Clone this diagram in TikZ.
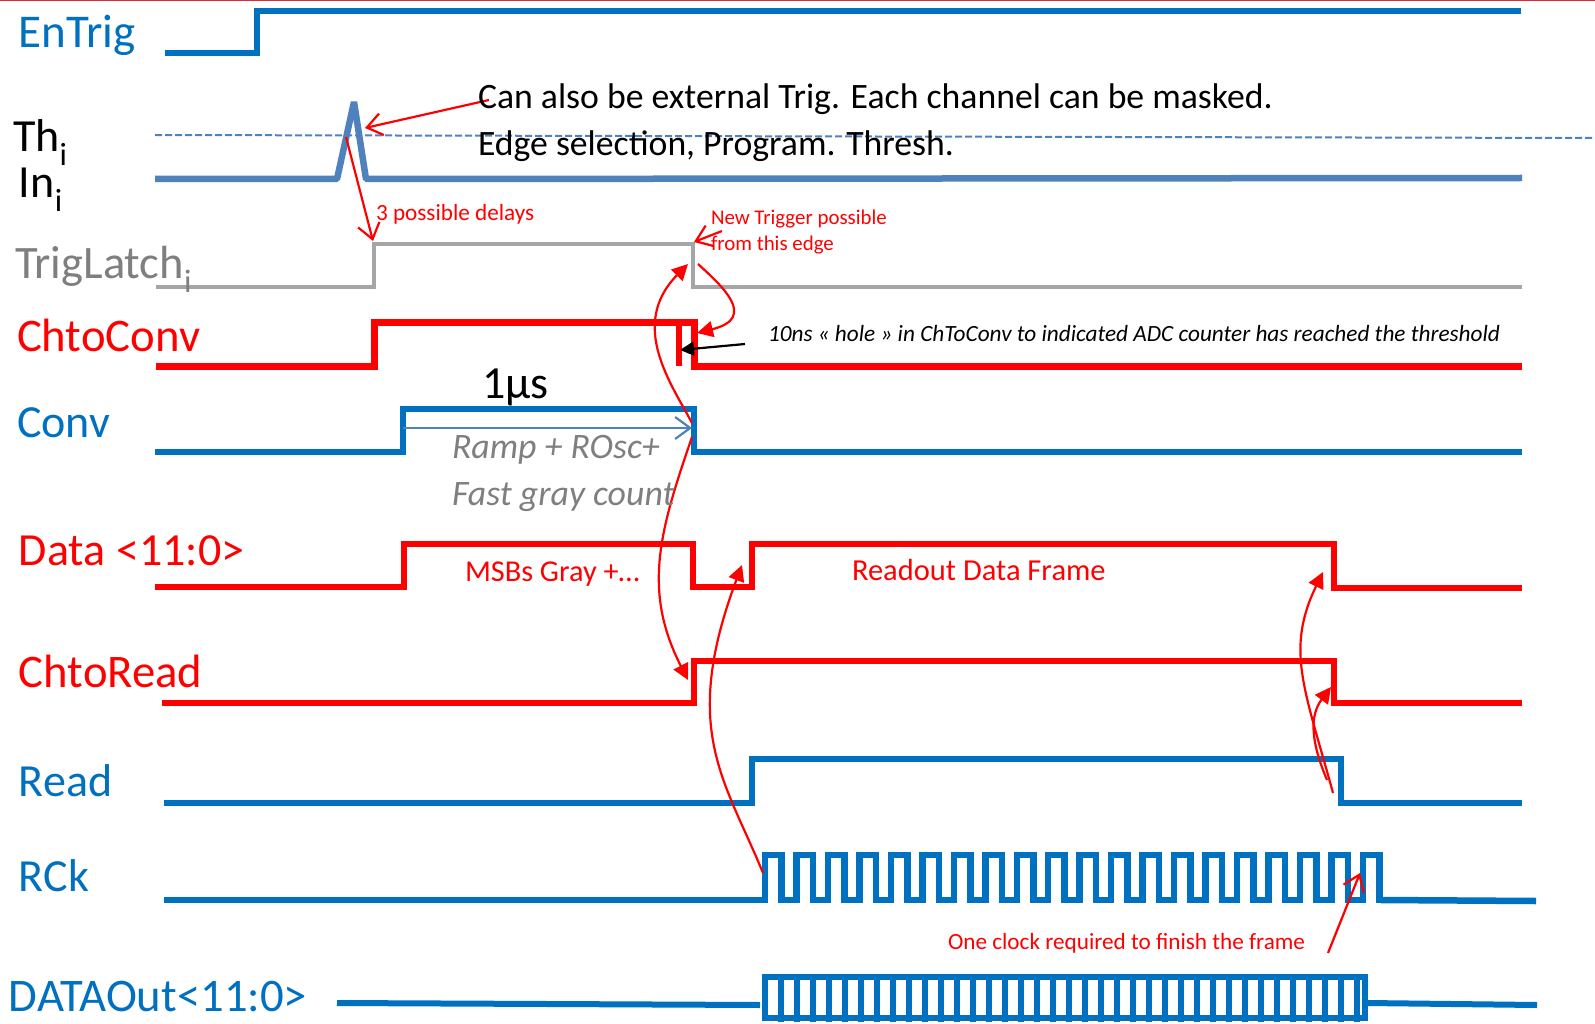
\documentclass[tikz,border=0pt]{standalone}
\usepackage{fontspec}
\setmainfont{Carlito}
\usetikzlibrary{arrows.meta}
\definecolor{wblue}{HTML}{0070C0}
\definecolor{sblue}{HTML}{4F81BD}
\definecolor{wgray}{HTML}{A6A6A6}
\definecolor{wred}{HTML}{FF0000}
\definecolor{tgray}{HTML}{7F7F7F}
\definecolor{topline}{HTML}{DC2B36}
\tikzset{
  wave/.style={line width=#1,line join=miter},
  lbl/.style={anchor=base west,inner sep=0pt,outer sep=0pt},
  redopen/.style={draw=wred,line width=2.2pt,-{Straight Barb[length=15pt,width=22pt,line width=2.2pt]}},
  redfill/.style={draw=wred,line width=2.2pt,-{Triangle[length=16pt,width=16pt]}},
}
\newcommand{\fs}[1]{\fontsize{#1}{#1}\selectfont}
\begin{document}
\begin{tikzpicture}[x=1pt,y=-1pt]
\useasboundingbox (0,0) rectangle (1595,1024);
\fill[white] (0,0) rectangle (1595,1024);
\draw[topline,line width=1.5pt] (0,0.5) -- (1595,0.5);
% waveforms
\draw[wblue,wave=6pt] (165,53) -- (257,53) -- (257,11) -- (1521,11);
\draw[sblue,line width=2pt,dash pattern=on 7pt off 3pt] (155,135) -- (1595,138);
\draw[sblue,line width=6.5pt,line join=bevel] (155,179) -- (337,179) -- (354,102) -- (366,179) -- (1522,178);
\draw[wgray,wave=4.5pt] (156,287) -- (374,287) -- (374,244) -- (693,244) -- (693,287) -- (1522,287);
\draw[wred,wave=7pt] (156,366) -- (374,366) -- (374,322) -- (694,322) -- (694,366) -- (1522,366);
\draw[wred,line width=6.5pt] (679,322) -- (679,366);
\draw[wblue,wave=6.5pt] (155,452) -- (403,452) -- (403,409) -- (694,409) -- (694,452) -- (1522,452);
\draw[wred,wave=6.5pt] (155,587) -- (404,587) -- (404,544) -- (693,544) -- (693,587) -- (752,587) -- (752,544) -- (1334,544) -- (1334,588) -- (1522,588);
\draw[wred,wave=6.5pt] (162,703) -- (694,703) -- (694,661) -- (1334,661) -- (1334,703) -- (1522,703);
\draw[wblue,wave=6pt] (164,803) -- (752,803) -- (752,759) -- (1341,759) -- (1341,803) -- (1522,803);
\draw[wblue,wave=6.5pt] (164,900) -- (765,900)
  \foreach \k in {0,...,19} { -- ({765+31.47*\k},855) -- ({765+31.47*\k+16.5},855) -- ({765+31.47*\k+16.5},900) -- ({765+31.47*(\k+1)},900) -- ({765+31.47*(\k+1)},900) }
  ;
\draw[wblue,wave=6.5pt] (1381,900) -- (1536,901);
% DATAOut
\draw[wblue,line width=6pt] (337,1003) -- (760,1005);
\draw[wblue,line width=6pt] (1367,1003) -- (1537,1005);
\draw[wblue,line width=6pt] (765,1018) -- (765,977) -- (1365,977) -- (1365,1018) -- cycle;
\foreach \k in {1,...,37} \draw[wblue,line width=6pt] ({765+16*\k},977) -- ({765+16*\k},1022);
% named anchors for arrows
\coordinate (pulse) at (365,128);
\coordinate (noteTail) at (489,100);
\coordinate (pulseB) at (346,137);
\coordinate (latchUp) at (373,241);
\coordinate (latchFall) at (694,242);
\coordinate (newTail) at (722,231);
% red arrows
\draw[redopen] (noteTail) -- (pulse);
\draw[redopen] (pulseB) -- (latchUp);
\draw[redopen] (newTail) -- (latchFall);
\draw[redfill] (698,264) .. controls (722,286) and (758,318) .. (697,333);
\draw[redfill] (692,423) .. controls (672,385) and (628,325) .. (688,264);
\draw[redfill] (692,437) .. controls (660,530) and (642,590) .. (688,680);
\draw[redfill] (763,873) .. controls (725,780) and (680,730) .. (742,565);
\draw[redfill] (1333,793) .. controls (1305,690) and (1285,650) .. (1323,572);
\draw[redfill] (1327,780) .. controls (1310,740) and (1310,715) .. (1331,687);
\draw[redopen] (1328,953) -- (1360,873);
\draw[black,line width=2.2pt,-{Triangle[length=14pt,width=14pt]}] (745,344) -- (680,350);
\draw[sblue,line width=2.2pt,-{Straight Barb[length=15pt,width=22pt,line width=2.2pt]}] (403,428) -- (692,428);
% signal labels
\node[lbl,text=wblue] at (19,48) {\fs{47}EnTrig};
\node[lbl,text=black] at (13,152) {\fs{46}Th\textsubscript{i}};
\node[lbl,text=black] at (19,198) {\fs{46}In\textsubscript{i}};
\node[lbl,text=tgray] at (15,279) {\fs{46.5}TrigLatch\textsubscript{i}};
\node[lbl,text=wred] at (17,351) {\fs{46.7}ChtoConv};
\node[lbl,text=wblue] at (17,437) {\fs{46}Conv};
\node[lbl,text=wred] at (19,565) {\fs{46}Data <11:0>};
\node[lbl,text=wred] at (19,687) {\fs{46.7}ChtoRead};
\node[lbl,text=wblue] at (19,796) {\fs{46}Read};
\node[lbl,text=wblue] at (19,891) {\fs{46}RCk};
\node[lbl,text=wblue] at (9,1011) {\fs{46.7}DATAOut<11:0>};
% notes
\node[lbl] at (478,109) {\fs{35.7}Can also be external Trig. Each channel can be masked.};
\node[lbl] at (478,156) {\fs{35.7}Edge selection, Program. Thresh.};
\node[lbl,text=wred] at (376,221) {\fs{23.2}3 possible delays};
\node[lbl,text=wred] at (711,225) {\fs{20.9}New Trigger possible};
\node[lbl,text=wred] at (711,251) {\fs{20.9}from this edge};
\node[lbl] at (768,341) {\fs{23.25}\itshape 10ns « hole » in ChToConv to indicated ADC counter has reached the threshold};
\node[lbl] at (482,398) {\fs{46}1µs};
\node[lbl,text=tgray] at (452,458) {\fs{35.8}\itshape Ramp + ROsc+};
\node[lbl,text=tgray] at (452,505) {\fs{35.8}\itshape Fast gray count};
\node[lbl,text=wred] at (465,581) {\fs{30.3}MSBs Gray +…};
\node[lbl,text=wred] at (852,580) {\fs{30.5}Readout Data Frame};
\node[lbl,text=wred] at (948,949) {\fs{23.2}One clock required to finish the frame};
\end{tikzpicture}
\end{document}
